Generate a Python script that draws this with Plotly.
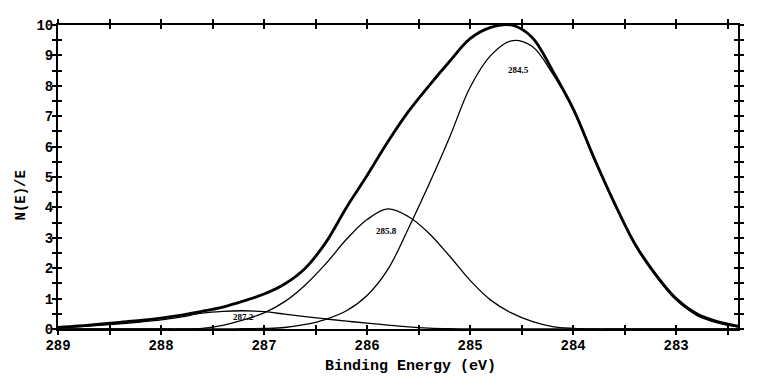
import plotly.graph_objects as go

# Binding energy grid (eV)
energy = [289.0, 288.8, 288.6, 288.4, 288.2, 288.0, 287.8, 287.6, 287.4, 287.2,
          287.0, 286.8, 286.6, 286.4, 286.2, 286.0, 285.8, 285.6, 285.4, 285.2,
          285.0, 284.8, 284.6, 284.4, 284.2, 284.0, 283.8, 283.6, 283.4, 283.2,
          283.0, 282.8, 282.6, 282.4]

envelope = [0.05, 0.10, 0.16, 0.22, 0.28, 0.36, 0.46, 0.58, 0.72, 0.92,
            1.15, 1.48, 2.00, 2.85, 4.00, 5.05, 6.15, 7.15, 8.00, 8.80,
            9.55, 9.92, 10.0, 9.60, 8.50, 7.25, 5.65, 4.15, 2.80, 1.80,
            1.00, 0.50, 0.24, 0.09]

peak_2845 = [0, 0, 0, 0, 0, 0, 0, 0, 0, 0.01,
             0.02, 0.05, 0.15, 0.32, 0.60, 1.10, 1.95, 3.30, 4.75, 6.30,
             7.95, 9.00, 9.48, 9.30, 8.40, 7.20, 5.60, 4.10, 2.75, 1.75,
             0.95, 0.45, 0.20, 0.07]

peak_2858 = [0, 0, 0, 0, 0, 0, 0, 0.02, 0.12, 0.30,
             0.53, 0.90, 1.45, 2.15, 2.95, 3.60, 3.95, 3.70, 3.15, 2.40,
             1.60, 0.95, 0.53, 0.25, 0.08, 0.02, 0, 0, 0, 0,
             0, 0, 0, 0]

peak_2872 = [0.03, 0.07, 0.12, 0.17, 0.23, 0.30, 0.40, 0.52, 0.58, 0.60,
             0.57, 0.49, 0.41, 0.33, 0.26, 0.19, 0.13, 0.07, 0.03, 0.01,
             0, 0, 0, 0, 0, 0, 0, 0, 0, 0,
             0, 0, 0, 0]

peak_labels = ["284.5", "285.8", "287.2"]
label_x = [284.53, 285.81, 287.20]
label_y = [8.52, 3.22, 0.39]

x_ticks = [289, 288, 287, 286, 285, 284, 283]
y_ticks = [0, 1, 2, 3, 4, 5, 6, 7, 8, 9, 10]

fig = go.Figure()
for vals in [peak_2872, peak_2858, peak_2845]:
    fig.add_trace(go.Scatter(x=energy, y=vals, mode="lines", line_shape="spline",
                             line=dict(color="black", width=1.3), showlegend=False,
                             hoverinfo="skip"))
fig.add_trace(go.Scatter(x=energy, y=envelope, mode="lines", line_shape="spline",
                         line=dict(color="black", width=2.8), showlegend=False,
                         hoverinfo="skip"))
# invisible trace for the overlay axes (inside ticks)
fig.add_trace(go.Scatter(x=[energy[0]], y=[0], xaxis="x2", yaxis="y2", mode="markers",
                         marker=dict(opacity=0), showlegend=False, hoverinfo="skip"))

for t, xx, yy in zip(peak_labels, label_x, label_y):
    fig.add_annotation(x=xx, y=yy, text="<b>" + t + "</b>", showarrow=False,
                       font=dict(family="Liberation Serif", size=9, color="black"))

tickfont = dict(family="Liberation Mono", size=14, color="black", weight="bold")
common = dict(showgrid=False, zeroline=False, showline=True, linecolor="black",
              linewidth=2, ticklen=4, tickwidth=1.5, tickcolor="black", mirror="ticks",
              automargin=False)

fig.update_layout(
    width=768, height=388,
    margin=dict(l=58, r=30, t=25, b=59),
    paper_bgcolor="white", plot_bgcolor="white",
    xaxis=dict(range=[289, 282.4], tickvals=x_ticks, ticktext=[str(v) for v in x_ticks],
               ticks="outside", tickfont=tickfont, ticklabelstandoff=-2,
               minor=dict(dtick=0.5, tick0=289, ticks="outside", ticklen=4, tickwidth=1.5,
                          tickcolor="black"), **common),
    yaxis=dict(range=[0, 10], tickvals=y_ticks, ticks="outside", tickfont=tickfont,
               ticklabelstandoff=-4,
               minor=dict(dtick=0.5, tick0=0, ticks="outside", ticklen=4, tickwidth=1.5,
                          tickcolor="black"), **common),
    xaxis2=dict(range=[289, 282.4], overlaying="x", anchor="y2", side="bottom",
                tickvals=[289 - 0.5 * i for i in range(14)], ticks="inside",
                showticklabels=False, **common),
    yaxis2=dict(range=[0, 10], overlaying="y", anchor="x2", side="left",
                tickvals=[0.5 * i for i in range(21)], ticks="inside",
                showticklabels=False, **common),
)

fig.add_annotation(x=0.518, y=-0.122, xref="paper", yref="paper", showarrow=False,
                   xanchor="center", yanchor="middle",
                   text="Binding Energy (eV)",
                   font=dict(family="Liberation Mono", size=15, color="black", weight="bold"))
fig.add_annotation(x=-0.054, y=0.44, xref="paper", yref="paper", showarrow=False,
                   xanchor="center", yanchor="middle",
                   text="N(E)/E", textangle=-90,
                   font=dict(family="Liberation Mono", size=14, color="black", weight="bold"))

fig.write_html("out.html", config={"displayModeBar": False},
               post_script="document.body.style.margin='0';document.body.style.padding='0';")
